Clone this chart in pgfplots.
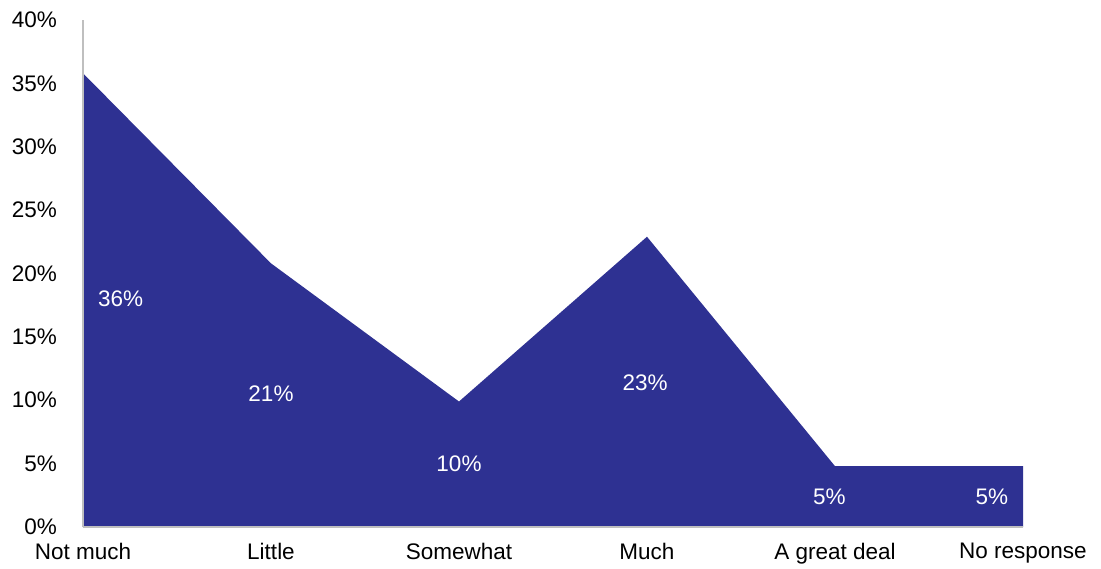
\documentclass[border=0pt]{standalone}
\usepackage{pgfplots}
\pgfplotsset{compat=1.18}
\usepackage{fontspec}
\setmainfont{Liberation Sans}
\definecolor{areablue}{RGB}{46,49,146}
\definecolor{axgray}{RGB}{191,191,191}
\begin{document}
\begin{tikzpicture}
\path[use as bounding box] (-83pt,-41pt) rectangle (1018pt,527pt);
\begin{axis}[
  at={(0pt,0pt)}, anchor=south west,
  scale only axis, width=940pt, height=507pt,
  xmin=0, xmax=5, ymin=0, ymax=40,
  axis lines*=left,
  axis on top,
  axis line style={draw=axgray, line width=1.2pt},
  xtick={0,1,2,3,4,5},
  xticklabels={Not much,Little,Somewhat,Much,A great deal,No response},
  ytick={0,5,10,15,20,25,30,35,40},
  yticklabels={0\%,5\%,10\%,15\%,20\%,25\%,30\%,35\%,40\%},
  major tick length=0pt,
  tick style={draw=none},
  /pgf/number format/assume math mode=true,
  x tick label style={font=\fontsize{22.5}{26}\selectfont, anchor=north, inner sep=0pt, yshift=-16pt},
  y tick label style={font=\fontsize{22.5}{26}\selectfont, anchor=east, inner sep=0pt, xshift=-26pt},
  clip=false,
]
\addplot[fill=areablue, draw=none] coordinates {
  (0,0) (0,35.8) (1,20.8) (2,9.9) (3,22.9) (4,4.8) (5,4.8) (5,0)
} -- cycle;
\addplot[draw=none, mark=none,
  nodes near coords,
  point meta=explicit symbolic,
  every node near coord/.append style={font=\fontsize{22.5}{26}\selectfont, text=white, anchor=center, inner sep=0pt},
] table[meta=lab] {
x      y     lab
0.20   18.0  36\%
1.00   10.5  21\%
2.00   5.0   10\%
2.99   11.4  23\%
3.97   2.4   5\%
4.835  2.4   5\%
};
\end{axis}
\end{tikzpicture}
\end{document}
